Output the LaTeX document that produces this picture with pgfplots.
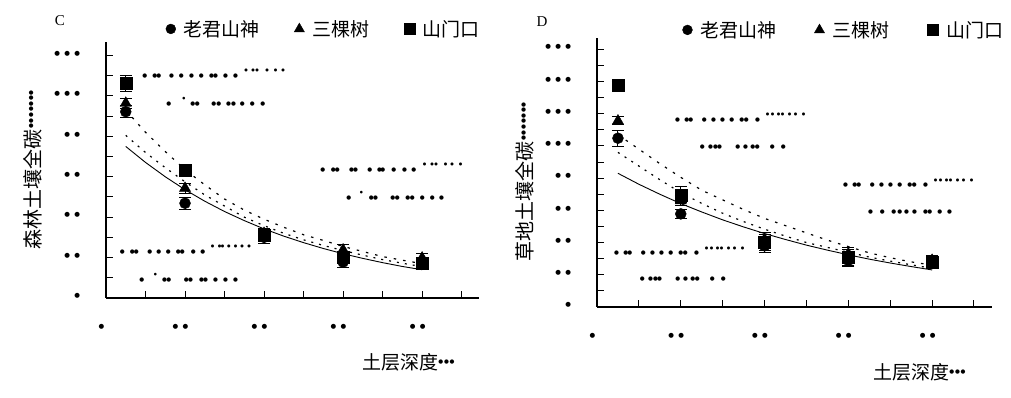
\documentclass[border=0pt]{standalone}
\usepackage{pgfplots}
\pgfplotsset{compat=1.18}
\usepackage{fontspec}
\setmainfont{Liberation Serif}
\newfontfamily\cjk{Noto Sans CJK SC}
\newfontfamily\dv{DejaVu Sans}
\newcommand\dotf{\dv\fontsize{6.5}{7}\selectfont}
\newcommand\td{\makebox[10pt]{●}}
\newcommand\sd{\makebox[5.6pt]{●}}
\newcommand\drow[3][5.6]{\node[anchor=west,inner sep=0pt,outer sep=0pt,font=\dv\fontsize{#1}{#1}\selectfont] at (0pt,{(398-#2)*1pt}) {\foreach \o in {#3}{\rlap{\hspace{\o pt}\makebox[0pt]{●}}}};}

\pgfplotsset{
  panel/.style={
    scale only axis, anchor=south west,
    axis x line=bottom, axis y line=left,
    axis line style={line width=1.3pt,-},
    tick align=inside, major tick length=6.5pt, minor tick length=6.5pt,
    tick style={line width=1pt,black},
    xmin=0,
    xtick={0,20,40,60,80}, minor xtick={10,30,50,70,90},
    xticklabels={\td,\td\td,\td\td,\td\td,\td\td},
    xticklabel style={font=\dotf, inner sep=0pt, anchor=center, xshift=-4.5pt, yshift=-29pt},
    yticklabel style={font=\dotf, inner sep=0pt, anchor=east, xshift=-23.5pt, yshift=2pt},
    ymin=0, clip=false,
    legend columns=-1,
    legend style={draw=none, fill=none, inner sep=0pt, font=\cjk\fontsize{19}{19}\selectfont},
    legend image post style={scale=0.9},
  },
  ser/.style={only marks, mark=#1, mark options={fill=black,draw=black},
    error bars/y dir=both, error bars/y explicit,
    error bars/error bar style={line width=1pt,black},
    error bars/error mark options={rotate=90, mark size=6pt, line width=1pt, black}},
  fitA/.style={no marks, black, line width=0.9pt, forget plot},
  fitB/.style={no marks, black, line width=1.2pt, dash pattern=on 2pt off 6pt, forget plot},
  fitC/.style={no marks, black, line width=1.2pt, dash pattern=on 2.5pt off 7pt, forget plot},
}

\begin{document}
\begin{tikzpicture}
\useasboundingbox (0,0) rectangle (1011pt,398pt);

% ---------------- Panel C ----------------
\begin{axis}[panel, at={(106pt,100pt)}, width=373pt, height=256pt,
  xmax=94.4, ymax=126.7,
  ytick={0,20,...,120}, minor ytick={10,30,...,110},
  yticklabels={\td,\td\td,\td\td,\td\td,\td\td,\td\td\td,\td\td\td},
  legend style={at={(0.160,1.051)}, anchor=west, /tikz/every even column/.append style={column sep=32.5pt}},
]
\addplot[fitA] coordinates {(5,75.0)(10,67.1)(15,60.0)(20,53.6)(25,47.9)(30,42.8)(35,38.3)(40,34.2)(45,30.6)(50,27.4)(55,24.5)(60,21.9)(65,19.6)(70,17.5)(75,15.6)(80,14.0)};
\addplot[fitB] coordinates {(5,80.5)(10,72)(15,64.5)(20,57.5)(25,51)(30,45.5)(35,40)(40,35.8)(45,32)(50,28.8)(55,26)(60,23.5)(65,21.2)(70,19)(75,17.2)(80,15.5)};
\addplot[fitC] coordinates {(5,93)(10,82)(15,72.5)(20,63.5)(25,56)(30,49)(35,43.5)(40,39)(45,35)(50,31.3)(55,28.5)(60,25.5)(65,23)(70,20.5)(75,18.7)(80,17)};
\addplot[mark size=5.5pt, ser=*] coordinates {(5,92.2) +- (0,3) (20,46.9) +- (0,3) (40,30) +- (0,3) (60,17.8) +- (0,2.5) (80,16.8) +- (0,2)};
\addlegendentry{\hspace{6pt}老君山神}
\addplot[mark size=6.5pt, ser=triangle*] coordinates {(5,96.4) +- (0,2.5) (20,54.3) +- (0,2.5) (40,32) +- (0,2.5) (60,23.8) +- (0,2.5) (80,19.8) +- (0,2)};
\addlegendentry{\hspace{6pt}三棵树}
\addplot[mark size=6pt, ser=square*] coordinates {(5,106.3) +- (0,4) (20,63.4) +- (0,2) (40,31.2) +- (0,3) (60,20.4) +- (0,2) (80,17.3) +- (0,2)};
\addlegendentry{\hspace{6pt}山门口}
\end{axis}

% ---------------- Panel D ----------------
\begin{axis}[panel, at={(597pt,91pt)}, width=395pt, height=269pt,
  xmax=94.3, ymax=167,
  ytick={0,20,...,160}, minor ytick={10,30,...,150},
  yticklabels={\td,\td\td,\td\td,\td\td,\td\td,\td\td\td,\td\td\td,\td\td\td,\td\td\td},
  legend style={at={(0.216,1.03)}, anchor=west,
    /tikz/every even column/.append style={column sep=36pt}},
]
\addplot[fitA] coordinates {(5,83.0)(10,76.2)(15,70.0)(20,64.2)(25,59.0)(30,54.1)(35,49.7)(40,45.6)(45,41.9)(50,38.4)(55,35.3)(60,32.4)(65,29.7)(70,27.3)(75,25.1)(80,23.0)};
\addplot[fitB] coordinates {(5,96)(10,87.5)(15,79)(20,71)(25,64.3)(30,58.2)(35,53)(40,48.3)(45,44)(50,40)(55,37)(60,34)(65,31)(70,28.5)(75,26.2)(80,24)};
\addplot[fitC] coordinates {(5,107)(10,98)(15,89)(20,80.5)(25,72.5)(30,66.5)(35,60.5)(40,55)(45,50.5)(50,46)(55,41.5)(60,37.5)(65,33.6)(70,30.6)(75,28)(80,26)};
\addplot[mark size=5.5pt, ser=*] coordinates {(5,104.8) +- (0,5) (20,57.8) +- (0,3) (40,38) +- (0,4) (60,29) +- (0,4) (80,27) +- (0,3)};
\addlegendentry{\hspace{6pt}老君山神}
\addplot[mark size=6.5pt, ser=triangle*] coordinates {(5,115.5) +- (0,2.5) (20,66) +- (0,3) (40,42) +- (0,4) (60,33) +- (0,4) (80,29) +- (0,3)};
\addlegendentry{\hspace{6pt}三棵树}
\addplot[mark size=6pt, ser=square*] coordinates {(5,138) +- (0,2) (20,69.6) +- (0,5) (40,40) +- (0,5) (60,31) +- (0,5) (80,28) +- (0,4)};
\addlegendentry{\hspace{6pt}山门口}
\end{axis}

% panel letters
\node[font=\fontsize{15}{15}\selectfont] at (60pt,377pt) {C};
\node[font=\fontsize{15}{15}\selectfont] at (542pt,376pt) {D};

% axis titles
\node[inner sep=0pt] at (408.5pt,36pt) {{\cjk\fontsize{19}{19}\selectfont 土层深度}\raisebox{5.5pt}{\dv\fontsize{5.6}{6}\selectfont\sd\sd\sd}};
\node[inner sep=0pt] at (919.5pt,26pt) {{\cjk\fontsize{19}{19}\selectfont 土层深度}\raisebox{5.5pt}{\dv\fontsize{5.6}{6}\selectfont\sd\sd\sd}};
\node[inner sep=0pt, rotate=90] at (32.5pt,228.5pt) {{\cjk\fontsize{20}{20}\selectfont 森林土壤全碳}\raisebox{7.5pt}{\dv\fontsize{5.6}{6}\selectfont\sd\sd\sd\sd\sd\sd\sd}};
\node[inner sep=0pt, rotate=90] at (525pt,216.5pt) {{\cjk\fontsize{20}{20}\selectfont 草地土壤全碳}\raisebox{7.5pt}{\dv\fontsize{5.6}{6}\selectfont\sd\sd\sd\sd\sd\sd\sd}};

% fitted-equation annotations (garbled in the source)
\drow{76}{144.3,154.3,158.3,171,180.7,191,200.7,211,215,225,235}
\drow[4]{70}{245.7,252.7,256.7,266.7,275,282.7}
\drow{104}{168.3,192.3,196.7,213.3,218.3,228,233,241.7,251.7,262.3}
\drow[3.5]{99}{183.3}
\drow{170}{322.3,332.7,336.7,351,355,369.3,379,382.3,393.3,404,413.3}
\drow[4]{164}{424,431.7,435.7,445,451.7,460}
\drow{198}{348.3,370.7,375,392.3,396.7,407.3,411.7,421.7,431.7,441}
\drow[3.5]{193}{361}
\drow{252}{121.7,131.7,135.7,149.3,158.3,167.7,177.7,181.7,192.7,202.3}
\drow[4]{246}{212,219,222,228.3,235,241.7,248.7}
\drow{280}{141.3,164,168.3,185.7,190,201,205,215,225,235}
\drow[3.5]{275}{155}

\drow{120}{677,686.3,690.3,703.7,713,722,731.3,741.3,745.7,757}
\drow[4]{114}{767,772,778,782,789,795,803}
\drow{147}{701.7,710,715,719,737.3,745,752.3,756.7,771.7,782.7}
\drow{185}{845,854.3,858.3,871.7,881,890,899.3,909.3,913.7,925}
\drow[4]{180}{935,940,946,950,957,963,971}
\drow{212}{870,881.7,893.3,899.3,906,914,925,929.3,939.3,949}
\drow{253}{616,625.3,629.3,642.7,652,661,670.3,680.3,684.7,696}
\drow[4]{248}{706,711,717,721,728,734,742}
\drow{279}{641.7,650,655,659,677.3,685,692.3,696.7,711.7,722.7}
\end{tikzpicture}
\end{document}
